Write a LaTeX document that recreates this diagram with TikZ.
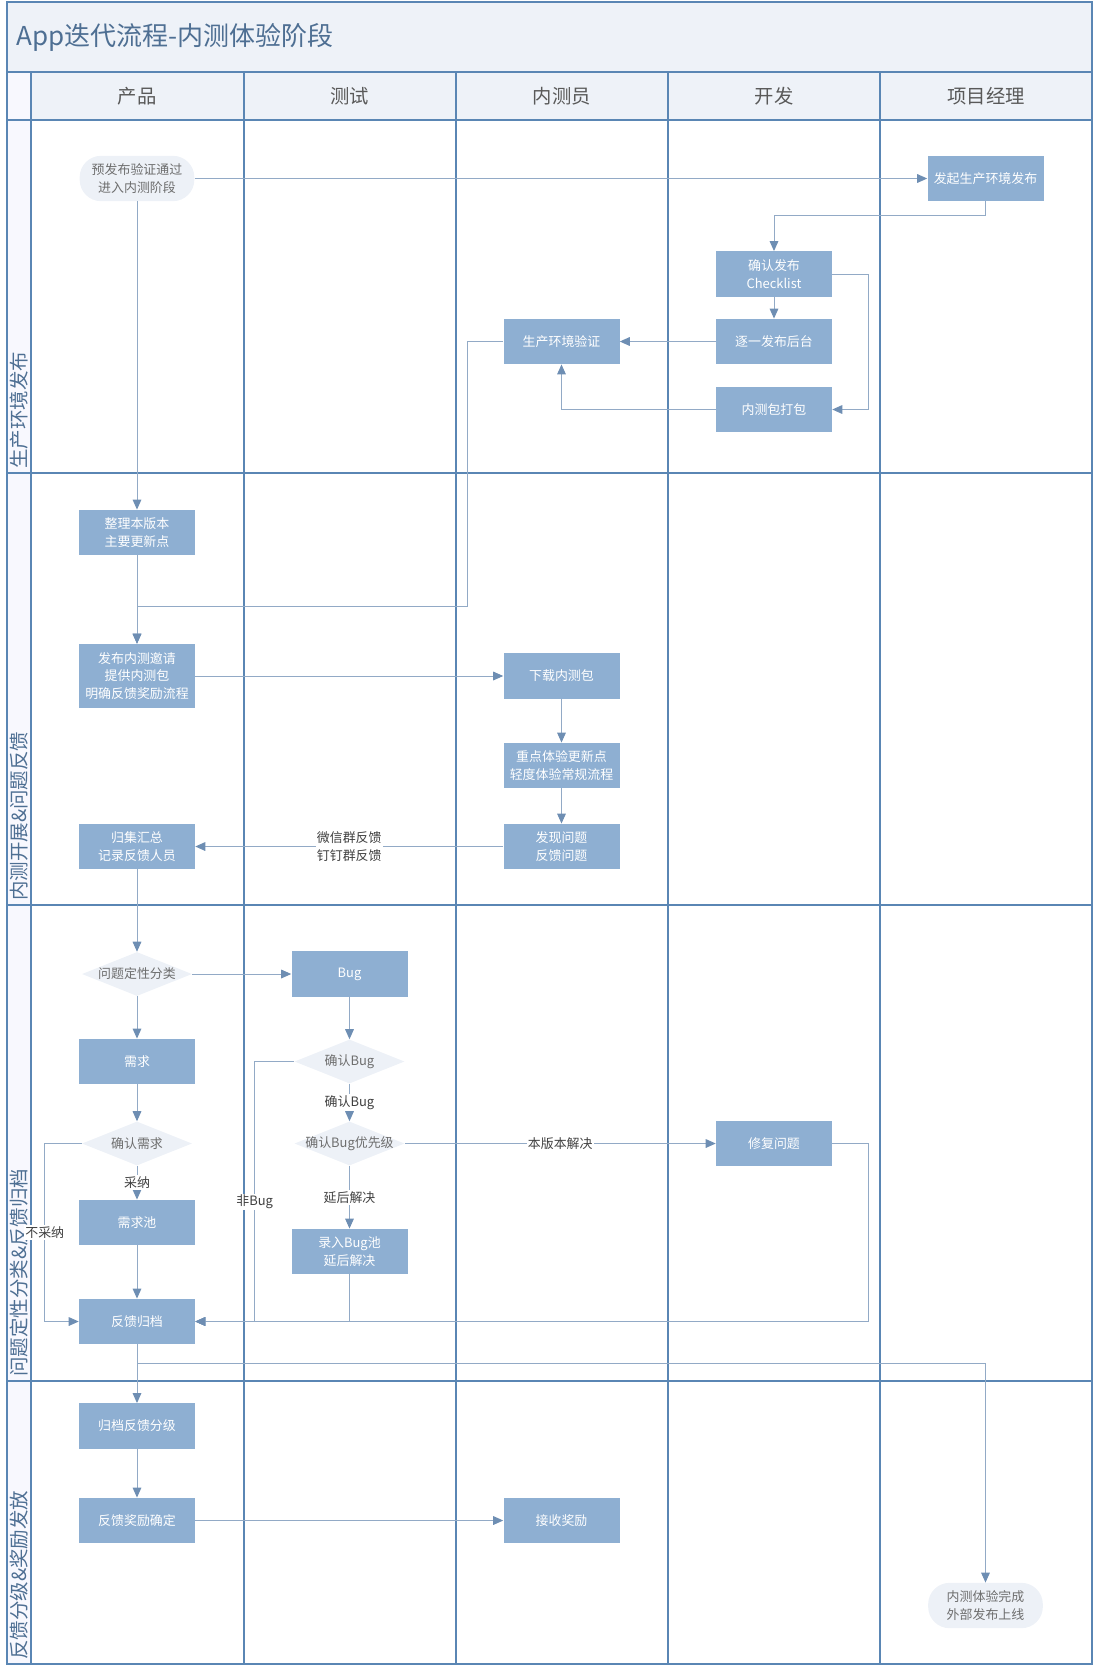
\documentclass[tikz,border=0pt]{standalone}
\usepackage{fontspec}
\setmainfont{Noto Sans CJK SC}
\usepackage{tikz}
\usetikzlibrary{arrows.meta,shapes.geometric}
\definecolor{boxfill}{HTML}{8EAFD2}
\definecolor{softfill}{HTML}{EDF1F7}
\definecolor{linecol}{HTML}{92AAC6}
\definecolor{tipcol}{HTML}{6E8EB3}
\definecolor{lanecol}{HTML}{5A86B4}
\definecolor{bandfill}{HTML}{EEF2F8}
\definecolor{softtext}{HTML}{6E6E6E}
\definecolor{titletext}{HTML}{4E6F93}
\newcommand{\flowfont}{\fontsize{9.7}{13}\selectfont}
\newcommand{\dtext}[1]{\makebox[0pt]{#1}}
\tikzset{
  flowarrow/.style={-{Triangle[length=7.5pt, width=6.5pt, color=tipcol]}, draw=linecol, line width=0.75pt},
  laneline/.style={draw=lanecol, line width=1.5pt},
  taskbox/.style={fill=boxfill, text=white, minimum width=87pt, minimum height=34pt, inner sep=2pt, align=center, font=\flowfont},
  termnode/.style={fill=softfill, text=softtext, rounded corners=16pt, minimum width=86pt, minimum height=34pt, align=center, font=\flowfont},
  decnode/.style={diamond, fill=softfill, text=softtext, minimum width=82.5pt, minimum height=33pt, inner sep=0pt, font=\flowfont},
  headlabel/.style={text=black!65, font=\fontsize{14.5}{17}\selectfont},
  lanelabel/.style={rotate=90, anchor=west, text=titletext, inner sep=0pt, font=\fontsize{14.6}{17}\selectfont},
  relabel/.style={font=\flowfont, fill=white, inner sep=1pt, align=center, text=black!75}
}

\begin{document}
\begin{tikzpicture}[x=0.75pt, y=-0.75pt]
  \useasboundingbox (0,0) rectangle (1094,1672);
  \fill[bandfill] (7,1.5) rectangle (1092,120);
  \fill[bandfill!70!blue!8] (7,72) rectangle (31,1664);
  \foreach \y in {72,120,473,905,1381} \draw[laneline] (7,\y) -- (1092,\y);
  \foreach \x in {31,243.5,455.5,668,880} \draw[laneline] (\x,72) -- (\x,1664);
  \draw[laneline] (7,1.5) rectangle (1092,1664);

  \node[anchor=west, text=titletext, font=\fontsize{19.5}{22}\selectfont] (title) at (12,37) {App迭代流程-内测体验阶段};
  \node[headlabel] (hprod) at (137,96) {产品};
  \node[headlabel] (htest) at (349.5,96) {测试};
  \node[headlabel] (htester) at (561.75,96) {内测员};
  \node[headlabel] (hdev) at (774,96) {开发};
  \node[headlabel] (hpm) at (986,96) {项目经理};
  \node[lanelabel] (lane1) at (19,469) {生产环境发布};
  \node[lanelabel] (lane2) at (19,901) {内测开展\&问题反馈};
  \node[lanelabel] (lane3) at (19,1377) {问题定性分类\&反馈归档};
  \node[lanelabel] (lane4) at (19,1660) {反馈分级\&奖励发放};

  \node[termnode] (pre) at (137,178.5) {预发布验证通过\\进入内测阶段};
  \node[taskbox] (launch) at (985.5,178.5) {发起生产环境发布};
  \node[taskbox] (check) at (774,274) {确认发布\\Checklist};
  \node[taskbox] (deploy) at (774,341.5) {逐一发布后台};
  \node[taskbox] (pkg) at (774,409.5) {内测包打包};
  \node[taskbox] (verify) at (561.5,341.5) {生产环境验证};
  \node[taskbox] (notes) at (137,532.5) {整理本版本\\主要更新点};
  \node[taskbox, minimum height=48pt] (invite) at (137,676) {发布内测邀请\\提供内测包\\明确反馈奖励流程};
  \node[taskbox] (dl) at (561.5,676) {下载内测包};
  \node[taskbox] (trial) at (561.5,765.5) {重点体验更新点\\轻度体验常规流程};
  \node[taskbox] (found) at (561.5,846.5) {发现问题\\反馈问题};
  \node[taskbox] (collect) at (137,846.5) {归集汇总\\记录反馈人员};
  \node[decnode] (classify) at (137,974) {\dtext{问题定性分类}};
  \node[taskbox] (bug) at (349.5,974) {Bug};
  \node[taskbox] (req) at (137,1061.5) {需求};
  \node[decnode] (cbug) at (349.5,1061.5) {\dtext{确认Bug}};
  \node[decnode] (creq) at (137,1143.5) {\dtext{确认需求}};
  \node[decnode] (prio) at (349.5,1143.5) {\dtext{确认Bug优先级}};
  \node[taskbox] (fix) at (774,1143.5) {修复问题};
  \node[taskbox] (pool) at (137,1222.5) {需求池};
  \node[taskbox] (bugpool) at (349.5,1251.5) {录入Bug池\\延后解决};
  \node[taskbox] (archive) at (137,1321.5) {反馈归档};
  \node[taskbox] (grade) at (137,1426) {归档反馈分级};
  \node[taskbox] (reward) at (137,1520.5) {反馈奖励确定};
  \node[taskbox] (recv) at (561.5,1520.5) {接收奖励};
  \node[termnode] (done) at (985.5,1605.5) {内测体验完成\\外部发布上线};

  \draw[flowarrow] (pre) -- (launch);
  \draw[flowarrow] (launch.south) -- ++(0,14) -| (check.north);
  \draw[flowarrow] (check) -- (deploy);
  \draw[flowarrow] (check.east) -- ++(36,0) |- (pkg.east);
  \draw[flowarrow] (deploy) -- (verify);
  \draw[flowarrow] (pkg.west) -| (verify.south);
  \draw[flowarrow] (verify.west) -- ++(-36,0) -- ++(0,265) -| (invite.north);
  \draw[flowarrow] (pre) -- (notes);
  \draw[flowarrow] (notes) -- (invite);
  \draw[flowarrow] (invite) -- (dl);
  \draw[flowarrow] (dl) -- (trial);
  \draw[flowarrow] (trial) -- (found);
  \draw[flowarrow] (found) -- node[relabel] {微信群反馈\\钉钉群反馈} (collect);
  \draw[flowarrow] (collect) -- (classify);
  \draw[flowarrow] (classify) -- (bug);
  \draw[flowarrow] (classify) -- (req);
  \draw[flowarrow] (bug) -- (cbug);
  \draw[flowarrow] (cbug) -- node[relabel] {确认Bug} (prio);
  \draw[flowarrow] (cbug.west) -- ++(-39.5,0) |- node[relabel, pos=0.27] {非Bug} (archive.east);
  \draw[flowarrow] (prio) -- node[relabel] {本版本解决} (fix);
  \draw[flowarrow] (prio) -- node[relabel] {延后解决} (bugpool);
  \draw[flowarrow] (bugpool.south) |- (archive.east);
  \draw[flowarrow] (fix.east) -- ++(36,0) |- (archive.east);
  \draw[flowarrow] (req) -- (creq);
  \draw[flowarrow] (creq) -- node[relabel] {采纳} (pool);
  \draw[flowarrow] (creq.west) -- ++(-37,0) |- node[relabel, pos=0.25] {不采纳} (archive.west);
  \draw[flowarrow] (pool) -- (archive);
  \draw[flowarrow] (archive) -- (grade);
  \draw[flowarrow] (archive.south) -- ++(0,19.5) -| (done.north);
  \draw[flowarrow] (grade) -- (reward);
  \draw[flowarrow] (reward) -- (recv);
\end{tikzpicture}
\end{document}
